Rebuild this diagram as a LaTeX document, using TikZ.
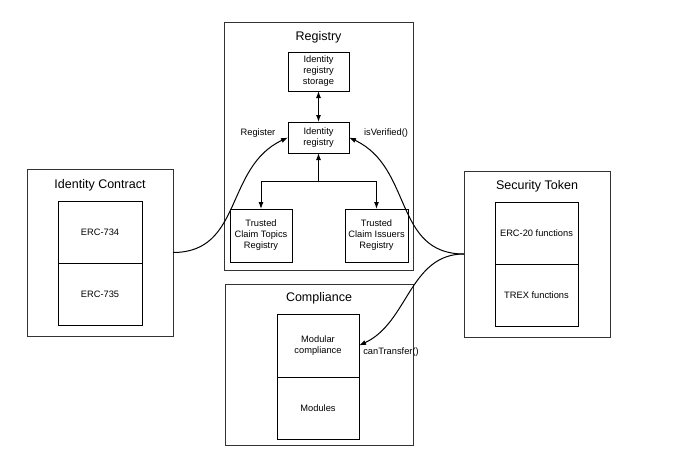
\documentclass[tikz,border=0pt]{standalone}
\usepackage{fontspec}
\setmainfont{Liberation Sans}
\usetikzlibrary{arrows.meta,positioning}

\begin{document}
\begin{tikzpicture}[
    x=1pt, y=1pt, >={Latex[length=7pt,width=5pt]},
    panel/.style={draw=black!80, line width=1pt, minimum width=#1, outer sep=0pt},
    part/.style={draw=black, line width=0.9pt, align=center, font=\fontsize{9.3}{11}\selectfont, outer sep=0pt},
    heading/.style={font=\fontsize{12.5}{14}\selectfont},
    callname/.style={font=\fontsize{9.3}{11}\selectfont}
]
\useasboundingbox (0,0) rectangle (679,475);
% identity contract
\node[panel=146pt, minimum height=167pt] (ic) at (100,222.5) {};
\node[heading] (ictitle) at (100,290) {Identity Contract};
\node[part, minimum width=84pt, minimum height=62pt] (erc734) at (100,243) {ERC-734};
\node[part, minimum width=84pt, minimum height=62pt] (erc735) at (100,181) {ERC-735};
% registry
\node[panel=189pt, minimum height=247pt] (reg) at (318.5,328.5) {};
\node[heading] (regtitle) at (318.5,438) {Registry};
\node[part, minimum width=61pt, minimum height=39pt] (storage) at (318.5,403.5) {Identity\\registry\\storage};
\node[part, minimum width=61pt, minimum height=31pt] (idreg) at (318.5,337.5) {Identity\\registry};
\node[part, minimum width=62pt, minimum height=53pt] (topics) at (261,239.5) {Trusted\\Claim Topics\\Registry};
\node[part, minimum width=63pt, minimum height=53pt] (issuers) at (376.5,239.5) {Trusted\\Claim Issuers\\Registry};
\coordinate (junc) at (318.5,294);
\draw[<->, line width=1pt] (storage) -- (idreg);
\draw[->, line width=1pt] (junc) -- (idreg);
\draw[->, line width=1pt] (junc) -| (topics);
\draw[->, line width=1pt] (junc) -| (issuers);
% compliance
\node[panel=188pt, minimum height=161pt] (comp) at (319,110.5) {};
\node[heading] (comptitle) at (319,177) {Compliance};
\node[part, minimum width=82pt, minimum height=63pt] (modcomp) at (318,129.5) {Modular\\compliance};
\node[part, minimum width=82pt, minimum height=62pt] (modules) at (318,67) {Modules};
% security token
\node[panel=146pt, minimum height=166pt] (st) at (537,221) {};
\node[heading] (sttitle) at (537,289) {Security Token};
\node[part, minimum width=83pt, minimum height=62pt] (erc20) at (536.5,242) {ERC-20 functions};
\node[part, minimum width=83pt, minimum height=62pt] (trex) at (536.5,180) {TREX functions};
% calls
\draw[->, line width=1pt] (ic.east) to[out=0, in=205, looseness=1.1] (idreg.west);
\draw[->, line width=1pt] (st.west) to[out=180, in=-25, looseness=1.1] (idreg.east);
\draw[->, line width=1pt] (st.west) to[out=180, in=25, looseness=1] (modcomp.east);
\node[callname] (lregister) at (258,342) {Register};
\node[callname] (lverified) at (386,342) {isVerified()};
\node[callname] (ltransfer) at (391,123) {canTransfer()};
\end{tikzpicture}
\end{document}
